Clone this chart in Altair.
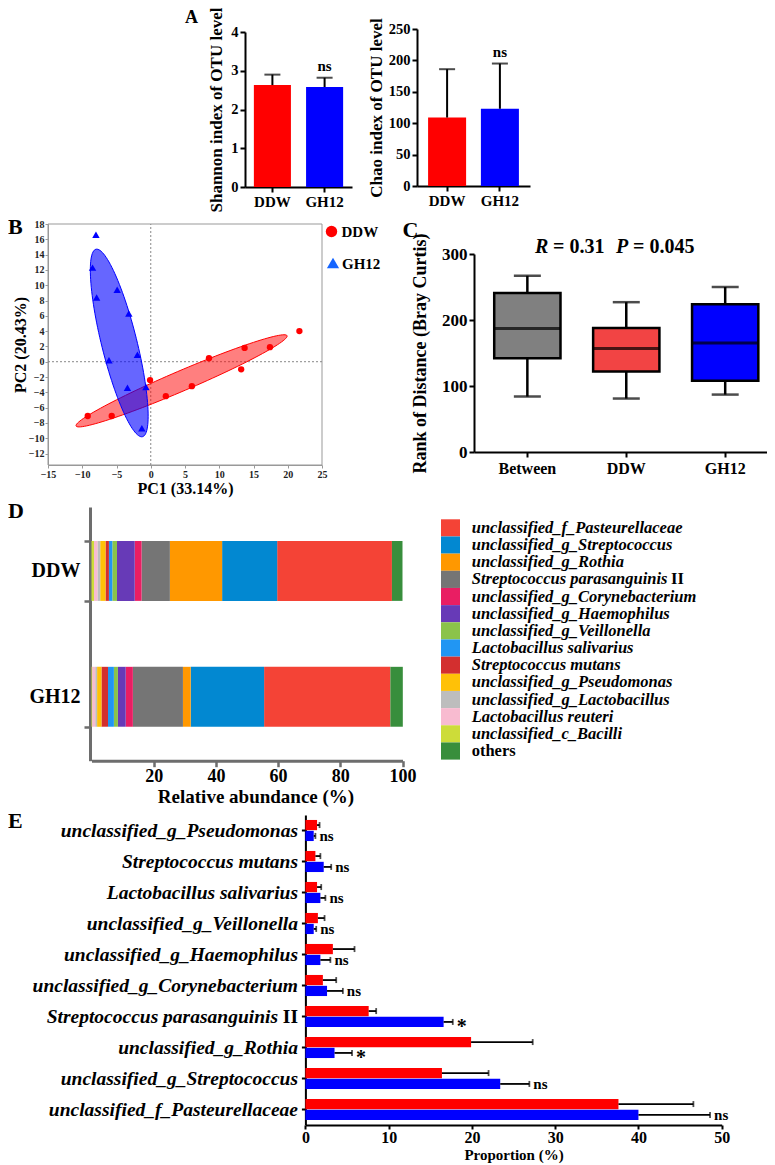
import altair as alt
import numpy as np
import pandas as pd

W, H = 759, 1157
F = "Liberation Serif"
RED, BLUE = "#FF0000", "#0000FF"

# ---------------- data ----------------
groups = ["DDW", "GH12"]

# Panel A
shannon_mean = [2.63, 2.58]
shannon_sd = [0.27, 0.24]
chao_mean = [109, 123]
chao_sd = [77, 72]
alpha_sig = ["", "ns"]

# Panel B (PCA scores)
ddw_pc1 = [-9.2, -5.7, -0.1, 2.2, 6.0, 8.5, 13.2, 13.7, 17.4, 21.7]
ddw_pc2 = [-7.1, -7.1, -2.4, -4.5, -3.2, 0.45, -1.0, 1.8, 1.9, 4.0]
gh_pc1 = [-8.0, -8.5, -7.9, -4.9, -3.2, -1.95, -6.1, -3.4, -0.7, -1.3]
gh_pc2 = [16.6, 12.3, 8.4, 9.4, 6.3, 0.9, 0.2, -3.4, -3.3, -8.7]
# ellipses: centre and two half-axis vectors (data units)
ell_cx = [4.5, -4.6]
ell_cy = [-2.5, 2.45]
ell_ux = [15.4, -3.4]
ell_uy = [5.9, 12.25]
ell_vx = [-0.57, 2.5]
ell_vy = [1.21, 0.56]

# Panel C (boxplots)
c_groups = ["Between", "DDW", "GH12"]
c_min = [84, 81, 87]
c_q1 = [142, 122, 108]
c_med = [187, 157, 165]
c_q3 = [241, 188, 224]
c_max = [267, 227, 250]
c_colors = ["#808080", "#F24444", "#0000FF"]

# Panel D (stacked composition)
d_taxa = ["unclassified_f_Pasteurellaceae", "unclassified_g_Streptococcus", "unclassified_g_Rothia",
          "Streptococcus parasanguinis II", "unclassified_g_Corynebacterium", "unclassified_g_Haemophilus",
          "unclassified_g_Veillonella", "Lactobacillus salivarius", "Streptococcus mutans",
          "unclassified_g_Pseudomonas", "unclassified_g_Lactobacillus", "Lactobacillus reuteri",
          "unclassified_c_Bacilli", "others"]
d_colors = ["#F44336", "#0288D1", "#FF9800", "#757575", "#E91E63", "#673AB7", "#8BC34A", "#2196F3",
            "#D32F2F", "#FFC107", "#BDBDBD", "#F8BBD0", "#CDDC39", "#388E3C"]
d_ddw = [36.9, 17.7, 16.8, 9.1, 2.2, 5.7, 1.5, 1.1, 1.1, 1.7, 0.9, 1.1, 0.8, 3.4]
d_gh12 = [40.6, 23.6, 2.5, 16.1, 2.3, 2.5, 1.3, 1.9, 2.1, 1.4, 0.6, 1.0, 0.2, 4.0]
d_stack_rank = [12, 11, 10, 9, 8, 7, 6, 5, 4, 3, 2, 1, 0, 13]

# Panel E (proportions)
e_taxa = ["unclassified_g_Pseudomonas", "Streptococcus mutans", "Lactobacillus salivarius",
          "unclassified_g_Veillonella", "unclassified_g_Haemophilus", "unclassified_g_Corynebacterium",
          "Streptococcus parasanguinis II", "unclassified_g_Rothia", "unclassified_g_Streptococcus",
          "unclassified_f_Pasteurellaceae"]
e_ddw = [1.4, 1.2, 1.4, 1.5, 3.3, 2.1, 7.6, 19.9, 16.4, 37.6]
e_ddw_sd = [0.3, 0.6, 0.5, 0.8, 2.6, 1.6, 0.9, 7.4, 5.6, 9.0]
e_gh12 = [1.0, 2.2, 1.8, 1.0, 1.8, 2.6, 16.6, 3.5, 23.4, 40.0]
e_gh12_sd = [0.2, 0.9, 0.6, 0.3, 1.2, 1.9, 1.1, 2.1, 3.5, 8.6]
e_sig = ["ns", "ns", "ns", "ns", "ns", "ns", "*", "*", "ns", "ns"]


# ---------------- helpers ----------------
def ax(**kw):
    base = dict(labelFont=F, labelFontWeight="bold", labelColor="black",
                titleFont=F, titleFontWeight="bold", titleColor="black",
                domainColor="black", tickColor="black", domainWidth=2, tickWidth=2,
                tickSize=5, grid=False, labelOverlap=False, labelFlush=False)
    base.update(kw)
    return alt.Axis(**base)


def note(text, x, y, size, italic=False, align="left", baseline="middle"):
    return alt.Chart(pd.DataFrame({"t": [text]})).mark_text(
        font=F, fontSize=size, fontWeight="bold",
        fontStyle="italic" if italic else "normal",
        align=align, baseline=baseline, color="black").encode(
        x=alt.value(x), y=alt.value(y), text="t:N")


# ---------------- panel A ----------------
def alpha_panel(mean, sd, x0, x1, ybot, ytop, ymax, yvals, title, title_x, pi, po):
    df = pd.DataFrame({"grp": groups, "m": mean,
                       "hi": [m + s for m, s in zip(mean, sd)], "sig": alpha_sig})
    xs = alt.Scale(domain=groups, range=[x0, x1], paddingInner=pi, paddingOuter=po)
    ys = alt.Scale(domain=[0, ymax], range=[ybot, ytop], nice=False)
    xa = ax(orient="bottom", offset=ybot - H, title=None, labelAngle=0,
            labelFontSize=15, labelPadding=2)
    ya = ax(orient="left", offset=-x0, values=yvals, title=title, labelFontSize=14.5,
            labelPadding=2, titleFontSize=17, titleX=title_x - x0,
            titleY=(ybot + ytop) / 2, titleBaseline="middle", titleAngle=270)
    X = alt.X("grp:N", scale=xs, axis=xa)
    bars = alt.Chart(df).mark_bar().encode(
        x=X, y=alt.Y("m:Q", scale=ys, axis=ya),
        color=alt.Color("grp:N", scale=alt.Scale(domain=groups, range=[RED, BLUE]), legend=None))
    err = alt.Chart(df).mark_rule(color="black", strokeWidth=2).encode(
        x=X, y=alt.Y("m:Q", scale=ys, axis=ya), y2="hi:Q")
    cap = alt.Chart(df).mark_tick(color="black", thickness=2, size=16).encode(
        x=X, y=alt.Y("hi:Q", scale=ys, axis=ya))
    sig = alt.Chart(df).mark_text(font=F, fontWeight="bold", fontSize=15, dy=-12).encode(
        x=X, y=alt.Y("hi:Q", scale=ys, axis=ya), text="sig:N")
    return alt.layer(bars, err, cap, sig)


panel_a1 = alpha_panel(shannon_mean, shannon_sd, 237, 344, 179, 24, 4, [0, 1, 2, 3, 4],
                       "Shannon index of OTU level", 208.5, 0.29, 0.17)
panel_a2 = alpha_panel(chao_mean, chao_sd, 409, 522, 178, 21, 250, [0, 50, 100, 150, 200, 250],
                       "Chao index of OTU level", 368.5, 0.28, 0.21)

# ---------------- panel B ----------------
bx = alt.Scale(domain=[-15, 25], range=[40, 314], nice=False, zero=False)
by = alt.Scale(domain=[-13.5, 18], range=[457, 216], nice=False, zero=False)
bxa = ax(orient="bottom", offset=457 - H, values=list(range(-15, 26, 5)), title="PC1 (33.14%)",
         labelFontSize=10, titleFontSize=16, titleX=177, titleY=23, titleBaseline="middle",
         domainColor="#999999", tickColor="#999999", domainWidth=1, tickWidth=1, tickSize=3,
         labelPadding=1, labelColor="#222222")
bya = ax(orient="left", offset=-40, values=list(range(-12, 19, 2)), title="PC2 (20.43%)",
         labelFontSize=10, titleFontSize=16, titleX=-28, titleY=336.5, titleBaseline="middle",
         titleAngle=270, domainColor="#999999", tickColor="#999999", domainWidth=1, tickWidth=1,
         tickSize=3, labelPadding=1, labelColor="#222222")

theta = np.linspace(0, 2 * np.pi, 121)
b_layers = []
frame = alt.Chart(pd.DataFrame({"a": [0]})).mark_rect(
    fillOpacity=0, stroke="#999999", strokeWidth=1).encode(
    x=alt.XDatum(-15, type="quantitative", scale=bx, axis=bxa),
    x2=alt.X2Datum(25),
    y=alt.YDatum(-13.5, type="quantitative", scale=by, axis=bya),
    y2=alt.Y2Datum(18))
vline = alt.Chart(pd.DataFrame({"a": [0]})).mark_rule(
    color="#888888", strokeWidth=1, strokeDash=[2, 2]).encode(
    x=alt.XDatum(0, type="quantitative", scale=bx, axis=bxa),
    y=alt.YDatum(-13.5, type="quantitative", scale=by, axis=bya), y2=alt.Y2Datum(18))
hline = alt.Chart(pd.DataFrame({"a": [0]})).mark_rule(
    color="#888888", strokeWidth=1, strokeDash=[2, 2]).encode(
    y=alt.YDatum(0, type="quantitative", scale=by, axis=bya),
    x=alt.XDatum(-15, type="quantitative", scale=bx, axis=bxa), x2=alt.X2Datum(25))
b_layers += [frame, vline, hline]

ell_style = [(RED, 0.5), (BLUE, 0.6)]
for k in range(2):
    ell = pd.DataFrame({
        "i": np.arange(len(theta)),
        "x": ell_cx[k] + ell_ux[k] * np.cos(theta) + ell_vx[k] * np.sin(theta),
        "y": ell_cy[k] + ell_uy[k] * np.cos(theta) + ell_vy[k] * np.sin(theta)})
    col, op = ell_style[k]
    b_layers.append(alt.Chart(ell).mark_line(
        fill=col, fillOpacity=op, stroke=col, strokeWidth=1).encode(
        x=alt.X("x:Q", scale=bx, axis=bxa), y=alt.Y("y:Q", scale=by, axis=bya),
        order="i:Q"))

ddw_df = pd.DataFrame({"x": ddw_pc1, "y": ddw_pc2})
gh_df = pd.DataFrame({"x": gh_pc1, "y": gh_pc2})
b_layers.append(alt.Chart(ddw_df).mark_point(filled=True, shape="circle", size=40,
                                             color=RED, opacity=1).encode(
    x=alt.X("x:Q", scale=bx, axis=bxa), y=alt.Y("y:Q", scale=by, axis=bya)))
b_layers.append(alt.Chart(gh_df).mark_point(filled=True, shape="triangle-up", size=55,
                                            color=BLUE, opacity=1).encode(
    x=alt.X("x:Q", scale=bx, axis=bxa), y=alt.Y("y:Q", scale=by, axis=bya)))
panel_b = alt.layer(*b_layers)

b_legend = alt.layer(
    alt.Chart(pd.DataFrame({"a": [0]})).mark_point(filled=True, shape="circle", size=130,
                                                   color=RED, opacity=1).encode(
        x=alt.value(323.5), y=alt.value(223.5)),
    alt.Chart(pd.DataFrame({"a": [0]})).mark_point(filled=True, shape="triangle-up", size=150,
                                                   color="#1565FF", opacity=1).encode(
        x=alt.value(325), y=alt.value(255)),
    note("DDW", 333.5, 224, 15),
    note("GH12", 334, 256, 15),
)

# ---------------- panel C ----------------
cxs = alt.Scale(domain=c_groups, range=[466, 759], paddingInner=0.33, paddingOuter=0.146, align=0.7)
cys = alt.Scale(domain=[0, 300], range=[444, 246], nice=False)
cxa = ax(orient="bottom", offset=444 - H, title=None, labelAngle=0, labelFontSize=16,
         labelPadding=3)
cya = ax(orient="left", offset=-466, values=[0, 100, 200, 300], title="Rank of Distance (Bray Curtis)",
         labelFontSize=17, labelPadding=2, titleFontSize=18, titleX=-54, titleY=345,
         titleBaseline="middle", titleAngle=270)
c_df = pd.DataFrame({"g": c_groups, "mn": c_min, "q1": c_q1, "md": c_med, "q3": c_q3, "mx": c_max})
CX = alt.X("g:N", scale=cxs, axis=cxa)
c_box = alt.Chart(c_df).mark_bar(stroke="black", strokeWidth=2.5).encode(
    x=CX, y=alt.Y("q1:Q", scale=cys, axis=cya), y2="q3:Q",
    color=alt.Color("g:N", scale=alt.Scale(domain=c_groups, range=c_colors), legend=None))
c_wu = alt.Chart(c_df).mark_rule(color="black", strokeWidth=2.5).encode(
    x=CX, y=alt.Y("q3:Q", scale=cys, axis=cya), y2="mx:Q")
c_wl = alt.Chart(c_df).mark_rule(color="black", strokeWidth=2.5).encode(
    x=CX, y=alt.Y("mn:Q", scale=cys, axis=cya), y2="q1:Q")
c_capu = alt.Chart(c_df).mark_tick(color="black", thickness=2.5, size=27).encode(
    x=CX, y=alt.Y("mx:Q", scale=cys, axis=cya))
c_capl = alt.Chart(c_df).mark_tick(color="black", thickness=2.5, size=27).encode(
    x=CX, y=alt.Y("mn:Q", scale=cys, axis=cya))
c_med_l = alt.Chart(c_df).mark_tick(color="black", thickness=3, size=66).encode(
    x=CX, y=alt.Y("md:Q", scale=cys, axis=cya))
panel_c = alt.layer(c_wu, c_wl, c_capu, c_capl, c_box, c_med_l)

c_title = alt.layer(
    note("R", 527, 238.5, 20, italic=True),
    note("= 0.31", 545, 238.5, 20),
    note("P", 608, 238.5, 20, italic=True),
    note("= 0.045", 625, 238.5, 20),
)

# ---------------- panel D ----------------
dxs = alt.Scale(domain=[0, 100], range=[83.5, 394.5], nice=False)
dys = alt.Scale(domain=groups, range=[499, 752.7], paddingInner=0.524, paddingOuter=0.27)
dxa = ax(orient="bottom", offset=752.7 - H, values=[20, 40, 60, 80, 100],
         title="Relative abundance (%)", labelFontSize=18, labelPadding=1, titleFontSize=19,
         titleX=247.5, titleY=36, titleBaseline="middle", domainColor="#6d6d6d",
         tickColor="#6d6d6d", domainWidth=3, tickWidth=2.5, tickSize=6)
dya = ax(orient="left", offset=-82, title=None, labelFontSize=20, labelPadding=4,
         domainColor="#6d6d6d", tickColor="#6d6d6d", domainWidth=3, tickWidth=2.5, tickSize=6,
         tickBand="extent")
d_rows = []
for g, vals in (("DDW", d_ddw), ("GH12", d_gh12)):
    for t, v, r in zip(d_taxa, vals, d_stack_rank):
        d_rows.append({"grp": g, "taxon": t, "v": v, "ord": r})
d_df = pd.DataFrame(d_rows)
panel_d = alt.Chart(d_df).mark_bar().encode(
    x=alt.X("v:Q", stack="zero", scale=dxs, axis=dxa),
    y=alt.Y("grp:N", scale=dys, axis=dya),
    color=alt.Color("taxon:N", scale=alt.Scale(domain=d_taxa, range=d_colors), legend=None),
    order=alt.Order("ord:Q"))

# legend for D
lys = alt.Scale(domain=d_taxa, range=[511.3, 751.6], paddingInner=0, paddingOuter=0)
leg_lab = [t if t != "Streptococcus parasanguinis II" else "Streptococcus parasanguinis"
           for t in d_taxa]
leg_df = pd.DataFrame({"taxon": d_taxa, "lab": leg_lab})
leg_sw = alt.Chart(leg_df).mark_bar().encode(
    x=alt.value(433), x2=alt.value(452),
    y=alt.Y("taxon:N", scale=lys, axis=None),
    color=alt.Color("taxon:N", scale=alt.Scale(domain=d_taxa, range=d_colors), legend=None))
leg_tx = alt.Chart(leg_df[leg_df.taxon != "others"]).mark_text(
    font=F, fontSize=16.5, fontWeight="bold", fontStyle="italic", align="left",
    baseline="middle", color="black").encode(
    x=alt.value(463.7), y=alt.Y("taxon:N", scale=lys, axis=None), text="lab:N")
leg_ot = alt.Chart(leg_df[leg_df.taxon == "others"]).mark_text(
    font=F, fontSize=16.5, fontWeight="bold", align="left", baseline="middle",
    color="black").encode(
    x=alt.value(463.7), y=alt.Y("taxon:N", scale=lys, axis=None), text="lab:N")
leg_ii = alt.Chart(pd.DataFrame({"taxon": ["Streptococcus parasanguinis II"], "lab": ["II"]})).mark_text(
    font=F, fontSize=16.5, fontWeight="bold", align="left", baseline="middle",
    color="black").encode(
    x=alt.value(663), y=alt.Y("taxon:N", scale=lys, axis=None), text="lab:N")
legend_d = alt.layer(leg_sw, leg_tx, leg_ot, leg_ii)

# ---------------- panel E ----------------
eys = alt.Scale(domain=e_taxa, range=[807, 1117], paddingInner=0.32, paddingOuter=0.16)
exs = alt.Scale(domain=[0, 50], range=[297.4, 713.7], nice=False)
eos = alt.Scale(domain=groups, paddingInner=0.06)
exa = ax(orient="bottom", offset=1117 - H, values=[0, 10, 20, 30, 40, 50], title="Proportion (%)",
         labelFontSize=16, labelPadding=0, tickSize=4, titleFontSize=15, titleY=29,
         titleBaseline="middle")
eya = ax(orient="left", offset=-297.4, title=None, labels=False, tickSize=4)
e_rows = []
for t, m1, s1, m2, s2, sg in zip(e_taxa, e_ddw, e_ddw_sd, e_gh12, e_gh12_sd, e_sig):
    e_rows.append({"taxon": t, "grp": "DDW", "m": m1, "hi": m1 + s1, "sig": ""})
    e_rows.append({"taxon": t, "grp": "GH12", "m": m2, "hi": m2 + s2, "sig": sg})
e_df = pd.DataFrame(e_rows)
EY = alt.Y("taxon:N", scale=eys, axis=eya)
EO = alt.YOffset("grp:N", scale=eos)
e_bar = alt.Chart(e_df).mark_bar().encode(
    x=alt.X("m:Q", scale=exs, axis=exa), y=EY, yOffset=EO,
    color=alt.Color("grp:N", scale=alt.Scale(domain=groups, range=[RED, BLUE]), legend=None))
e_err = alt.Chart(e_df).mark_rule(color="black", strokeWidth=1.8).encode(
    x=alt.X("m:Q", scale=exs, axis=exa), x2="hi:Q", y=EY, yOffset=EO)
e_cap = alt.Chart(e_df).mark_tick(color="black", thickness=1.8, size=6).encode(
    x=alt.X("hi:Q", scale=exs, axis=exa), y=EY, yOffset=EO)
e_ns = alt.Chart(e_df[e_df.sig == "ns"]).mark_text(
    font=F, fontWeight="bold", fontSize=15, align="left", baseline="middle", dx=4).encode(
    x=alt.X("hi:Q", scale=exs, axis=exa), y=EY, yOffset=EO, text="sig:N")
e_star = alt.Chart(e_df[e_df.sig == "*"]).mark_text(
    font=F, fontWeight="bold", fontSize=20, align="left", baseline="middle", dx=4, dy=5).encode(
    x=alt.X("hi:Q", scale=exs, axis=exa), y=EY, yOffset=EO, text="sig:N")
e_lab_txt = [t if t != "Streptococcus parasanguinis II" else "Streptococcus parasanguinis"
             for t in e_taxa]
e_lab_df = pd.DataFrame({"taxon": e_taxa, "lab": e_lab_txt})
e_lab = alt.Chart(e_lab_df[e_lab_df.taxon != "Streptococcus parasanguinis II"]).mark_text(
    font=F, fontSize=19.5, fontWeight="bold", fontStyle="italic", align="right",
    baseline="middle", color="black").encode(x=alt.value(290), y=EY, text="lab:N")
e_lab2 = alt.Chart(e_lab_df[e_lab_df.taxon == "Streptococcus parasanguinis II"]).mark_text(
    font=F, fontSize=19.5, fontWeight="bold", fontStyle="italic", align="right",
    baseline="middle", color="black").encode(x=alt.value(270), y=EY, text="lab:N")
e_ii = alt.Chart(pd.DataFrame({"taxon": ["Streptococcus parasanguinis II"], "lab": ["II"]})).mark_text(
    font=F, fontSize=19.5, fontWeight="bold", align="right", baseline="middle",
    color="black").encode(x=alt.value(290), y=EY, text="lab:N")
panel_e = alt.layer(e_bar, e_err, e_cap, e_ns, e_star, e_lab, e_lab2, e_ii)

# ---------------- panel letters ----------------
letters = alt.layer(
    note("A", 177, 1, 18, baseline="top"),
    note("B", 0, 218.5, 22),
    note("C", 394.5, 222, 22),
    note("D", 0, 503, 22),
    note("E", 0, 813, 22),
)

chart = alt.layer(
    panel_a1, panel_a2, panel_b, b_legend, panel_c, c_title, panel_d, legend_d, panel_e, letters
).resolve_scale(
    x="independent", y="independent", color="independent"
).properties(
    width=W, height=H, padding=0, autosize=alt.AutoSizeParams(type="none")
).configure_view(stroke=None)

chart.save("out.html", embed_options={"renderer": "svg", "actions": False})
